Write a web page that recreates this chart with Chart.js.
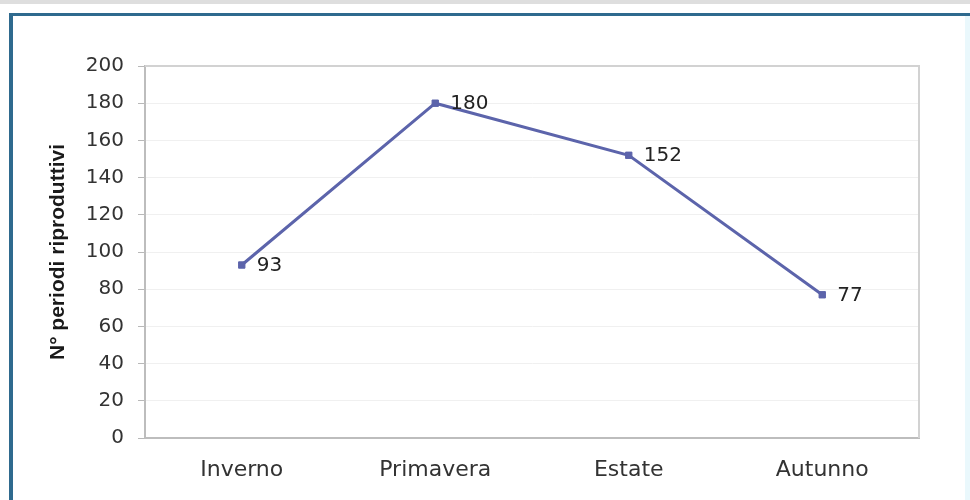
<!DOCTYPE html>
<html>
<head>
<meta charset="utf-8">
<script src="https://cdn.jsdelivr.net/npm/chart.js@4/dist/chart.umd.min.js"></script>
<style>
  html, body { margin: 0; padding: 0; background: #ffffff; }
  #wrap { width: 970px; height: 500px; position: relative; }
</style>
</head>
<body>
<div id="wrap"><canvas id="seasonChart" width="970" height="500"></canvas></div>
<script>
// Seasons and number of reproductive periods
const seasons = ['Inverno', 'Primavera', 'Estate', 'Autunno'];
const periodCounts = [93, 180, 152, 77];
const yTicks = [0, 20, 40, 60, 80, 100, 120, 140, 160, 180, 200];
const yTitle = 'N° periodi riproduttivi';

const lineColor = '#5c64ab';
const textFont = '"DejaVu Sans", Arial, sans-serif';

// page frame: grey strip on top, teal border on left/top
const framePlugin = {
  id: 'frame',
  beforeDraw(chart) {
    const ctx = chart.ctx;
    ctx.save();
    ctx.fillStyle = '#ffffff';
    ctx.fillRect(0, 0, chart.width, chart.height);
    ctx.fillStyle = '#dedede';
    ctx.fillRect(0, 0, chart.width, 4);
    ctx.fillStyle = '#2f6a8e';
    ctx.fillRect(10, 13, chart.width - 10, 3);
    ctx.fillRect(9, 13, 4, chart.height - 13);
    ctx.fillStyle = '#eaf8fc';
    ctx.fillRect(965, 16, 5, chart.height - 16);
    ctx.restore();
  },
  afterDraw(chart) {
    const { ctx, chartArea } = chart;
    ctx.save();
    ctx.strokeStyle = '#d2d2d2';
    ctx.lineWidth = 2;
    ctx.beginPath();
    ctx.moveTo(chartArea.left, chartArea.top);
    ctx.lineTo(chartArea.right, chartArea.top);
    ctx.lineTo(chartArea.right, chartArea.bottom);
    ctx.stroke();
    // y axis title
    ctx.translate(58, (chartArea.top + chartArea.bottom) / 2);
    ctx.rotate(-Math.PI / 2);
    ctx.fillStyle = '#1a1a1a';
    ctx.font = 'bold 21px "Liberation Sans", Arial, sans-serif';
    ctx.textAlign = 'center';
    ctx.textBaseline = 'middle';
    ctx.fillText(yTitle, 0, 0);
    ctx.restore();
  }
};

// value labels to the right of each point
const valueLabels = {
  id: 'valueLabels',
  afterDatasetsDraw(chart) {
    const ctx = chart.ctx;
    const meta = chart.getDatasetMeta(0);
    ctx.save();
    ctx.fillStyle = '#222222';
    ctx.font = '20px ' + textFont;
    ctx.textAlign = 'left';
    ctx.textBaseline = 'middle';
    meta.data.forEach((pt, i) => {
      ctx.fillText(String(periodCounts[i]), pt.x + 15, pt.y + 1);
    });
    ctx.restore();
  }
};

new Chart(document.getElementById('seasonChart').getContext('2d'), {
  type: 'line',
  data: {
    labels: seasons,
    datasets: [{
      data: periodCounts,
      borderColor: lineColor,
      backgroundColor: lineColor,
      borderWidth: 3,
      pointStyle: 'rect',
      pointRadius: 4.5,
      pointBorderWidth: 1,
      tension: 0
    }]
  },
  options: {
    responsive: false,
    animation: false,
    layout: { padding: { left: 0, top: 66, right: 51, bottom: 0 } },
    plugins: {
      legend: { display: false },
      tooltip: { enabled: false }
    },
    scales: {
      x: {
        offset: true,
        grid: { display: false, drawTicks: false },
        border: { display: true, color: '#bdbdbd', width: 2 },
        ticks: {
          padding: 19,
          color: '#333333',
          font: { family: textFont, size: 22 }
        },
        afterFit(scale) { scale.height = 62; }
      },
      y: {
        min: 0,
        max: 200,
        afterBuildTicks(scale) { scale.ticks = yTicks.map(v => ({ value: v })); },
        grid: { color: '#f0f0f0', tickColor: '#b8b8b8', tickLength: 7, lineWidth: 1 },
        border: { display: true, color: '#bdbdbd', width: 2 },
        ticks: {
          padding: 14,
          color: '#333333',
          font: { family: textFont, size: 20 }
        },
        afterFit(scale) { scale.width = 145; }
      }
    }
  },
  plugins: [framePlugin, valueLabels]
});
</script>
</body>
</html>
